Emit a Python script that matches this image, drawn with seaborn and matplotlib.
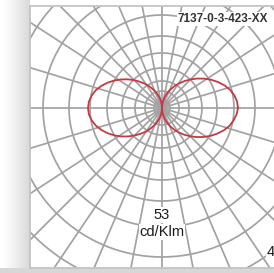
import numpy as np
import pandas as pd
import matplotlib
matplotlib.use("Agg")
import matplotlib.pyplot as plt
import seaborn as sns

# ---- data (cd/klm, angle in degrees counter-clockwise from the right) ----
angles_deg = list(range(0, 360, 5))
intensity = [
    38.0, 37.7, 36.7, 35.2, 33.2, 30.8, 28.3, 25.6, 22.9, 20.2, 17.6, 15.1, 12.7, 10.4, 8.2, 6.1, 4.0, 2.0,
    0.0, 1.9, 3.9, 5.9, 8.0, 10.1, 12.4, 14.7, 17.1, 19.7, 22.3, 24.9, 27.5, 30.0, 32.3, 34.3, 35.7, 36.7,
    37.0, 36.7, 35.7, 34.2, 32.2, 29.9, 27.4, 24.8, 22.1, 19.5, 16.9, 14.5, 12.2, 9.9, 7.8, 5.8, 3.8, 1.9,
    0.0, 2.0, 4.0, 6.1, 8.2, 10.4, 12.7, 15.1, 17.5, 20.0, 22.6, 25.3, 27.9, 30.4, 32.8, 34.8, 36.3, 37.4,
]
grid_radii = [4, 8.5, 13.5, 20, 27.5, 36, 46.5, 59.5, 74.5, 90.5]
spoke_angles = [0, 17, 33, 45, 56, 67, 79, 90, 101, 113, 124, 135, 147, 163,
                 180, 197, 213, 225, 236, 247, 259, 270, 281, 293, 304, 315, 327, 343]
unit_value = "53"
unit_label = "cd/Klm"
code_label = "7137-0-3-423-XX"
corner_label = "45"

sns.set_theme(style="white")
plt.rcParams["font.family"] = ["Liberation Sans", "DejaVu Sans"]

W, H = 274, 273
fig = plt.figure(figsize=(W / 100, H / 100), dpi=100)

# background with soft drop shadow on the left
bg = fig.add_axes([0, 0, 1, 1])
bg.set_axis_off()
img = np.ones((H, W))
xs = np.arange(W)
shade = np.where(xs < 30, 1 - 0.16 * (xs / 30.0) ** 1.3, 1.0)
img[:, :] = shade[None, :]
img[268:, :] = np.minimum(img[268:, :], 0.84)
bg.imshow(img, cmap="gray", vmin=0, vmax=1, aspect="auto", extent=[0, W, H, 0])
bg.set_xlim(0, W)
bg.set_ylim(H, 0)

# panel axes: 1 data unit = 2 px
ax = fig.add_axes([30 / W, 5 / H, 265 / W, 262 / H])
ax.set_facecolor("white")
ax.set_xlim(-66, 66.5)
ax.set_ylim(-80, 51)
ax.set_xticks([])
ax.set_yticks([])
for s in ax.spines.values():
    s.set_color("#c4c4c4")
    s.set_linewidth(1.3)

grid_col = "#a2a2a2"
t = np.linspace(0, 2 * np.pi, 400)
for r in grid_radii:
    ax.plot(r * np.cos(t), r * np.sin(t), color=grid_col, lw=1.25, zorder=1)
for a in spoke_angles:
    ar = np.deg2rad(a)
    ax.plot([0, 120 * np.cos(ar)], [0, 120 * np.sin(ar)], color=grid_col, lw=1.25, zorder=1)

th = np.deg2rad(np.array(angles_deg + [angles_deg[0]]))
rr = np.array(intensity + [intensity[0]])
df = pd.DataFrame({"x": rr * np.cos(th), "y": rr * np.sin(th)})
sns.lineplot(data=df, x="x", y="y", sort=False, estimator=None, color="#c33a42",
             lw=1.3, ax=ax, zorder=3)
ax.set_xlabel("")
ax.set_ylabel("")

box = dict(facecolor="white", edgecolor="none", pad=0.5)
ax.text(0, -53.5, unit_value, ha="center", va="center", fontsize=10.5, color="#1a1a1a",
        bbox=box, zorder=4)
ax.text(0, -62, unit_label, ha="center", va="center", fontsize=10.5, color="#1a1a1a",
        bbox=box, zorder=4)
ax.text(8, 44.5, code_label, ha="left", va="center", fontsize=8.5, fontweight="bold",
        color="#333333", bbox=box, zorder=4)
ax.text(52.5, -72, corner_label, ha="left", va="center", fontsize=10.5, color="#1a1a1a",
        bbox=box, zorder=4)

fig.savefig("out.png", dpi=100)
